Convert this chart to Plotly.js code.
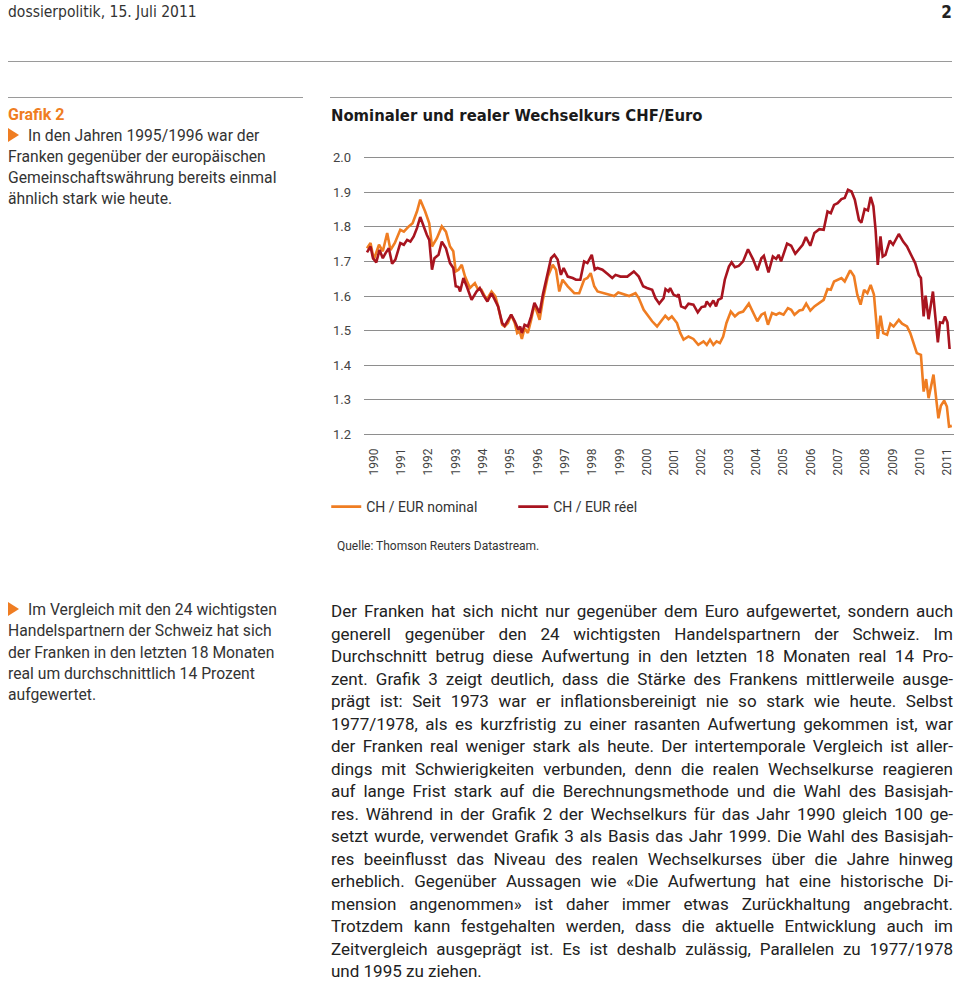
<!DOCTYPE html>
<html><head><meta charset="utf-8">
<script src="https://cdn.plot.ly/plotly-3.0.1.min.js"></script>
<style>
body{margin:0;background:#fff;}
#page{position:relative;width:960px;height:981px;overflow:hidden;font-family:Roboto,"Noto Sans",sans-serif;color:#222;}
.hr{position:absolute;height:0;border-top:1.5px solid #9a9a9a;}
#hdr{position:absolute;left:8px;top:1px;font-family:"DejaVu Sans Condensed","Liberation Sans Narrow",sans-serif;font-size:15.5px;line-height:22px;color:#333;}
#pgno{position:absolute;right:8px;top:1px;font-family:"DejaVu Sans Condensed","Liberation Sans Narrow",sans-serif;font-weight:bold;font-size:17px;line-height:22px;color:#222;}
.side{position:absolute;left:8px;width:300px;font-size:15.7px;line-height:21px;color:#333;white-space:nowrap;}
.tri{display:inline-block;width:0;height:0;border-top:7px solid transparent;border-bottom:7px solid transparent;border-left:11px solid #ef7d22;margin-right:9px;vertical-align:-1px;}
.orange{color:#ef7d22;font-weight:bold;font-size:16px;}
#body{position:absolute;left:331px;top:600px;width:622px;font-size:17px;line-height:22.5px;color:#222;}
#body div{white-space:nowrap;text-align:justify;text-align-last:justify;}
#body div.last{text-align-last:left;}
#chart{position:absolute;left:320px;top:100px;width:640px;height:470px;}
</style></head>
<body><div id="page">
<div id="hdr">dossierpolitik, 15. Juli 2011</div>
<div id="pgno">2</div>
<div class="hr" style="left:8px;top:61px;width:944px;"></div>
<div class="hr" style="left:8px;top:97px;width:295px;"></div>
<div class="hr" style="left:330px;top:97px;width:622px;"></div>
<div class="side" style="top:104px;">
<div class="orange">Grafik 2</div>
<div><span class="tri"></span>In den Jahren 1995/1996 war der</div>
<div>Franken gegenüber der europäischen</div>
<div>Gemeinschaftswährung bereits einmal</div>
<div>ähnlich stark wie heute.</div>
</div>
<div class="side" style="top:599px;line-height:21.25px;">
<div><span class="tri"></span>Im Vergleich mit den 24 wichtigsten</div>
<div>Handelspartnern der Schweiz hat sich</div>
<div>der Franken in den letzten 18 Monaten</div>
<div>real um durchschnittlich 14 Prozent</div>
<div>aufgewertet.</div>
</div>
<div id="body">
<div>Der Franken hat sich nicht nur gegenüber dem Euro aufgewertet, sondern auch</div>
<div>generell gegenüber den 24 wichtigsten Handelspartnern der Schweiz. Im</div>
<div>Durchschnitt betrug diese Aufwertung in den letzten 18 Monaten real 14 Pro-</div>
<div>zent. Grafik 3 zeigt deutlich, dass die Stärke des Frankens mittlerweile ausge-</div>
<div>prägt ist: Seit 1973 war er inflationsbereinigt nie so stark wie heute. Selbst</div>
<div>1977/1978, als es kurzfristig zu einer rasanten Aufwertung gekommen ist, war</div>
<div>der Franken real weniger stark als heute. Der intertemporale Vergleich ist aller-</div>
<div>dings mit Schwierigkeiten verbunden, denn die realen Wechselkurse reagieren</div>
<div>auf lange Frist stark auf die Berechnungsmethode und die Wahl des Basisjah-</div>
<div>res. Während in der Grafik 2 der Wechselkurs für das Jahr 1990 gleich 100 ge-</div>
<div>setzt wurde, verwendet Grafik 3 als Basis das Jahr 1999. Die Wahl des Basisjah-</div>
<div>res beeinflusst das Niveau des realen Wechselkurses über die Jahre hinweg</div>
<div>erheblich. Gegenüber Aussagen wie «Die Aufwertung hat eine historische Di-</div>
<div>mension angenommen» ist daher immer etwas Zurückhaltung angebracht.</div>
<div>Trotzdem kann festgehalten werden, dass die aktuelle Entwicklung auch im</div>
<div>Zeitvergleich ausgeprägt ist. Es ist deshalb zulässig, Parallelen zu 1977/1978</div>
<div class="last">und 1995 zu ziehen.</div>
</div>
<div id="chart"></div>
</div>
<script>
const chartTitle = 'Nominaler und realer Wechselkurs CHF/Euro';
const sourceNote = 'Quelle: Thomson Reuters Datastream.';
const seriesNames = ['CH / EUR nominal', 'CH / EUR réel'];
const yearLabels = ['1990','1991','1992','1993','1994','1995','1996','1997','1998','1999','2000','2001','2002','2003','2004','2005','2006','2007','2008','2009','2010','2011'];
const yTicks = [1.2,1.3,1.4,1.5,1.6,1.7,1.8,1.9,2.0];
const yTickLabels = ['1.2','1.3','1.4','1.5','1.6','1.7','1.8','1.9','2.0'];

const nominalX = [1990.00,1990.13,1990.25,1990.44,1990.58,1990.74,1990.86,1991.02,1991.22,1991.35,1991.53,1991.67,1991.83,1991.95,1992.13,1992.28,1992.38,1992.56,1992.74,1992.89,1993.04,1993.16,1993.25,1993.35,1993.47,1993.59,1993.77,1993.95,1994.07,1994.19,1994.38,1994.56,1994.70,1994.80,1994.95,1995.04,1995.16,1995.28,1995.41,1995.50,1995.59,1995.67,1995.77,1995.89,1996.01,1996.13,1996.32,1996.44,1996.62,1996.80,1996.92,1997.04,1997.16,1997.35,1997.59,1997.77,1997.95,1998.07,1998.19,1998.32,1998.44,1998.68,1998.92,1999.05,1999.20,1999.41,1999.60,1999.83,1999.95,2000.13,2000.30,2000.44,2000.62,2000.92,2001.04,2001.16,2001.35,2001.47,2001.59,2001.77,2001.95,2002.13,2002.32,2002.44,2002.56,2002.68,2002.80,2002.92,2003.04,2003.16,2003.32,2003.47,2003.61,2003.77,2003.98,2004.14,2004.29,2004.44,2004.56,2004.68,2004.83,2004.98,2005.10,2005.25,2005.41,2005.53,2005.65,2005.83,2005.95,2006.08,2006.23,2006.38,2006.56,2006.72,2006.86,2006.98,2007.10,2007.23,2007.37,2007.49,2007.69,2007.83,2007.95,2008.07,2008.20,2008.32,2008.44,2008.56,2008.63,2008.70,2008.80,2008.90,2009.04,2009.16,2009.28,2009.47,2009.59,2009.77,2009.89,2010.01,2010.13,2010.28,2010.38,2010.47,2010.56,2010.74,2010.84,2010.92,2011.01,2011.13,2011.23,2011.31,2011.41];
const nominalY = [1.738,1.753,1.705,1.748,1.729,1.782,1.733,1.753,1.791,1.786,1.801,1.810,1.844,1.878,1.844,1.810,1.743,1.767,1.801,1.786,1.743,1.729,1.671,1.676,1.690,1.656,1.623,1.637,1.618,1.618,1.589,1.613,1.599,1.570,1.517,1.512,1.522,1.546,1.522,1.493,1.498,1.476,1.507,1.493,1.531,1.575,1.531,1.589,1.656,1.690,1.676,1.613,1.647,1.628,1.608,1.608,1.647,1.652,1.666,1.628,1.613,1.608,1.604,1.600,1.610,1.604,1.600,1.608,1.594,1.560,1.540,1.527,1.512,1.543,1.533,1.541,1.522,1.493,1.474,1.483,1.476,1.459,1.469,1.459,1.474,1.459,1.469,1.464,1.483,1.522,1.555,1.541,1.551,1.555,1.578,1.551,1.527,1.546,1.551,1.517,1.551,1.546,1.551,1.546,1.565,1.560,1.546,1.558,1.560,1.578,1.558,1.570,1.580,1.589,1.620,1.618,1.642,1.647,1.652,1.642,1.674,1.657,1.604,1.575,1.618,1.608,1.632,1.604,1.541,1.476,1.543,1.493,1.488,1.520,1.512,1.531,1.520,1.512,1.493,1.464,1.435,1.430,1.324,1.360,1.305,1.373,1.300,1.247,1.283,1.298,1.281,1.223,1.225];

const realX = [1990.00,1990.13,1990.22,1990.34,1990.46,1990.58,1990.68,1990.80,1990.92,1991.04,1991.22,1991.35,1991.47,1991.59,1991.71,1991.83,1991.95,1992.07,1992.19,1992.28,1992.38,1992.47,1992.62,1992.74,1992.89,1993.04,1993.16,1993.25,1993.35,1993.41,1993.53,1993.65,1993.83,1994.01,1994.13,1994.25,1994.41,1994.56,1994.80,1994.95,1995.04,1995.28,1995.41,1995.54,1995.61,1995.67,1995.77,1995.89,1996.01,1996.13,1996.32,1996.44,1996.62,1996.74,1996.86,1996.98,1997.10,1997.20,1997.35,1997.53,1997.65,1997.81,1997.95,1998.07,1998.23,1998.34,1998.44,1998.62,1998.80,1998.98,1999.10,1999.28,1999.53,1999.77,1999.95,2000.11,2000.25,2000.44,2000.56,2000.70,2000.86,2000.93,2001.04,2001.10,2001.22,2001.35,2001.41,2001.50,2001.65,2001.77,2001.95,2002.11,2002.25,2002.38,2002.44,2002.56,2002.68,2002.78,2002.86,2002.98,2003.10,2003.25,2003.35,2003.47,2003.61,2003.77,2003.95,2004.14,2004.29,2004.44,2004.53,2004.70,2004.86,2004.98,2005.07,2005.16,2005.38,2005.53,2005.68,2005.83,2005.95,2006.07,2006.23,2006.38,2006.56,2006.72,2006.86,2006.98,2007.10,2007.23,2007.37,2007.49,2007.61,2007.74,2007.86,2008.01,2008.10,2008.22,2008.34,2008.44,2008.54,2008.62,2008.70,2008.80,2008.88,2008.98,2009.14,2009.26,2009.47,2009.63,2009.77,2009.95,2010.07,2010.20,2010.28,2010.38,2010.45,2010.56,2010.72,2010.80,2010.90,2010.98,2011.08,2011.16,2011.25,2011.33];
const realY = [1.726,1.743,1.709,1.697,1.733,1.709,1.724,1.738,1.693,1.705,1.753,1.748,1.762,1.757,1.772,1.796,1.828,1.801,1.777,1.762,1.676,1.709,1.719,1.757,1.738,1.695,1.681,1.628,1.626,1.613,1.652,1.628,1.589,1.613,1.623,1.604,1.584,1.608,1.570,1.522,1.514,1.546,1.527,1.503,1.512,1.493,1.517,1.512,1.541,1.580,1.551,1.604,1.671,1.709,1.719,1.705,1.661,1.681,1.656,1.652,1.647,1.647,1.700,1.695,1.719,1.676,1.681,1.676,1.664,1.652,1.661,1.656,1.656,1.671,1.656,1.628,1.623,1.618,1.594,1.578,1.594,1.620,1.613,1.623,1.604,1.599,1.605,1.570,1.565,1.578,1.575,1.553,1.568,1.570,1.584,1.572,1.587,1.570,1.589,1.594,1.647,1.685,1.697,1.683,1.687,1.700,1.735,1.705,1.674,1.709,1.716,1.668,1.714,1.707,1.719,1.700,1.751,1.745,1.722,1.738,1.748,1.770,1.745,1.782,1.793,1.791,1.844,1.839,1.863,1.868,1.880,1.883,1.907,1.902,1.878,1.820,1.812,1.851,1.847,1.886,1.859,1.791,1.690,1.772,1.714,1.719,1.760,1.748,1.779,1.757,1.743,1.714,1.695,1.661,1.652,1.541,1.601,1.533,1.613,1.546,1.466,1.524,1.522,1.541,1.524,1.447];

const colors = ['#ef7d22', '#a8141f'];

const traces = [
  {x: nominalX, y: nominalY, name: seriesNames[0], type: 'scatter', mode: 'lines',
   line: {color: colors[0], width: 2.6, shape: 'linear'}, hoverinfo: 'x+y'},
  {x: realX, y: realY, name: seriesNames[1], type: 'scatter', mode: 'lines',
   line: {color: colors[1], width: 2.6, shape: 'linear'}, hoverinfo: 'x+y'}
];

const yearTickVals = yearLabels.map(s => Number(s) + 0.25);

const layout = {
  width: 640, height: 470,
  margin: {l: 40, r: 6, t: 54, b: 132, pad: 0},
  paper_bgcolor: 'rgba(0,0,0,0)', plot_bgcolor: 'rgba(0,0,0,0)',
  font: {family: 'Roboto, "Noto Sans", sans-serif', color: '#333'},
  title: {text: '<b>' + chartTitle + '</b>', x: 11/640, xanchor: 'left', xref: 'container',
          y: 1 - 15/470, yanchor: 'middle', yref: 'container',
          font: {family: '"DejaVu Sans Condensed", "Liberation Sans Narrow", sans-serif', size: 16.5, color: '#1a1a1a'}},
  xaxis: {range: [1989.891, 2011.491], tickmode: 'array', tickvals: yearTickVals, ticktext: yearLabels,
          tickangle: -90, showgrid: false, zeroline: false, showline: false, ticks: '',
          tickfont: {size: 12, color: '#444'}, ticklabelstandoff: 7, fixedrange: true},
  yaxis: {range: [1.19, 2.01], tickmode: 'array', tickvals: yTicks, ticktext: yTickLabels,
          showgrid: true, gridcolor: '#8e8e8e', gridwidth: 1, zeroline: false, showline: false, ticks: '',
          tickfont: {size: 13, color: '#444'}, ticklabelstandoff: 12, fixedrange: true},
  showlegend: true,
  legend: {orientation: 'h', x: -0.064, xanchor: 'left', y: -0.243, yanchor: 'middle',
           font: {size: 14, color: '#333'}, itemwidth: 30, entrywidth: 142, entrywidthmode: 'pixels',
           bgcolor: 'rgba(0,0,0,0)', traceorder: 'normal'},
  annotations: [{text: sourceNote, xref: 'paper', yref: 'paper', x: -0.0488, xanchor: 'left',
                 y: -0.380, yanchor: 'middle', showarrow: false, font: {size: 12, color: '#333'}}]
};

Plotly.newPlot('chart', traces, layout, {displayModeBar: false, staticPlot: true});
</script>
</body></html>
